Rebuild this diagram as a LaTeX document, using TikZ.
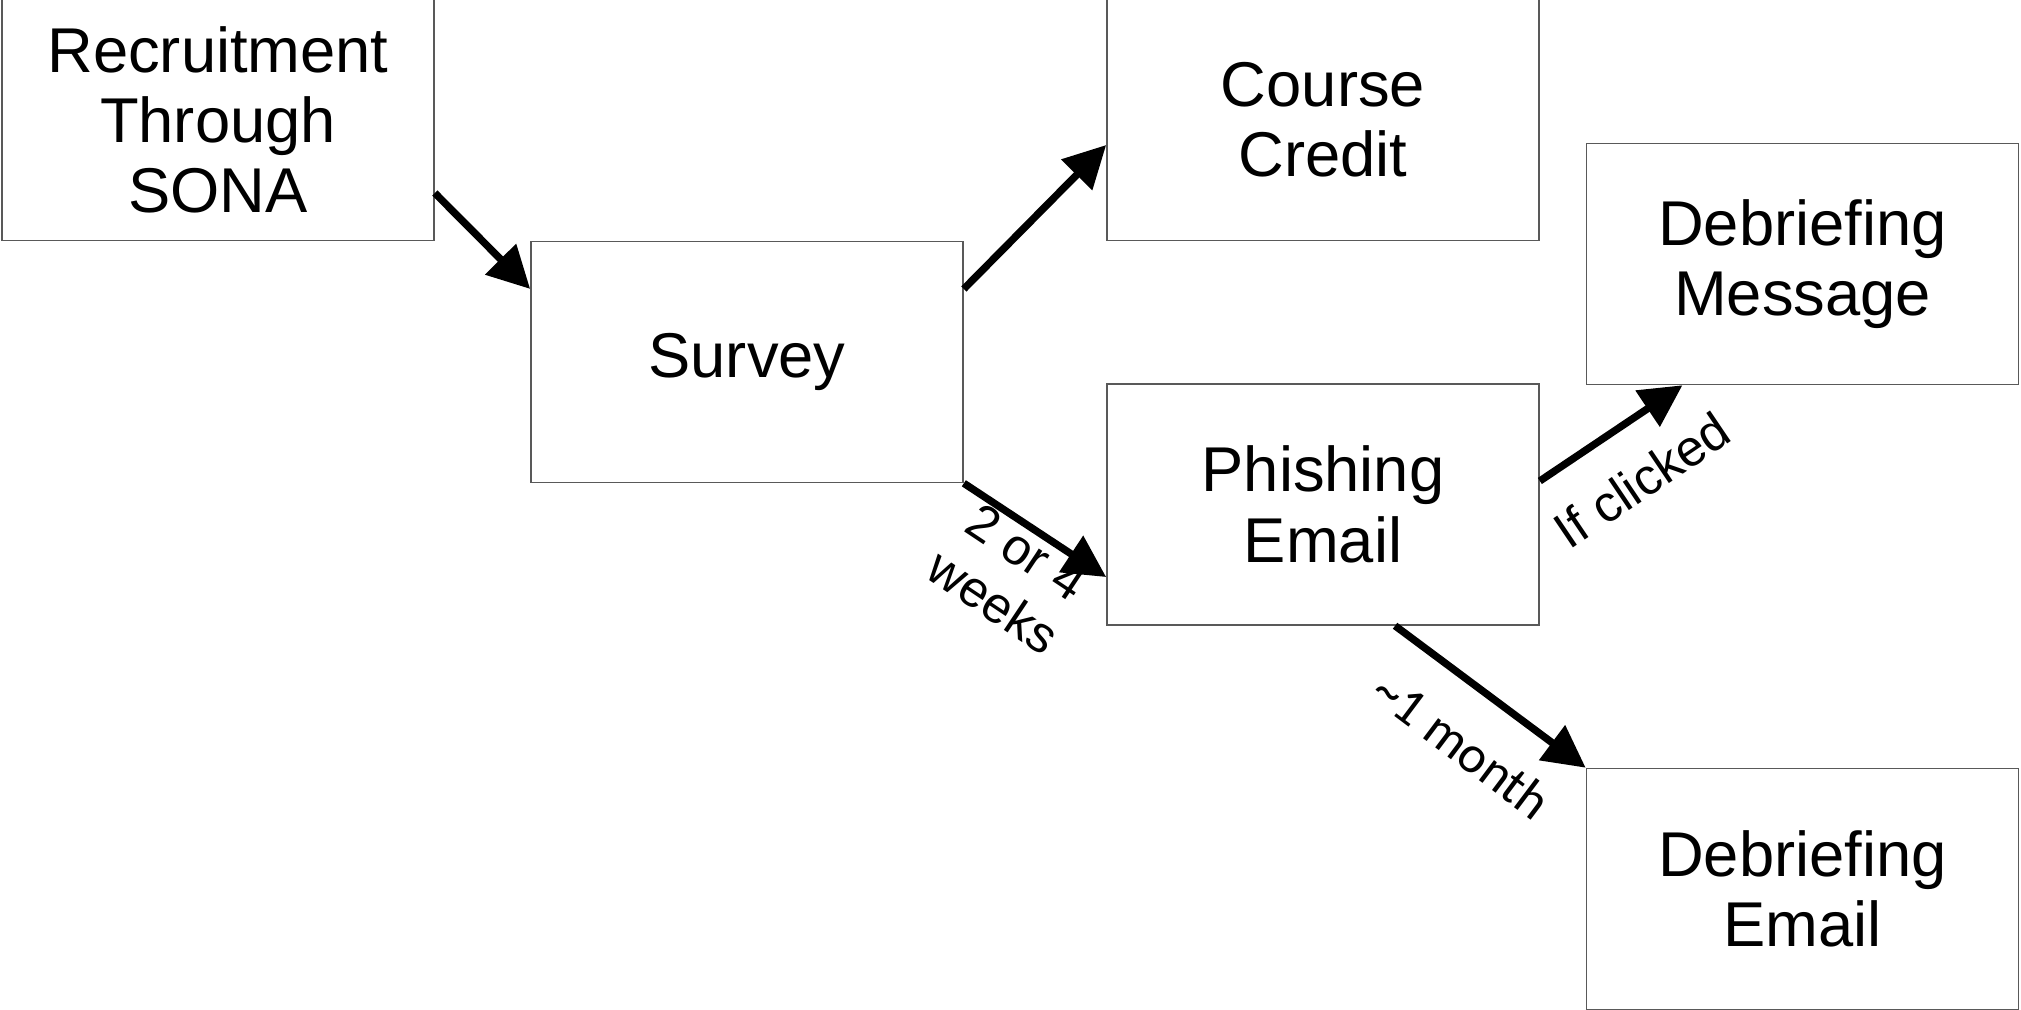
\documentclass[tikz,border=0pt]{standalone}
\usepackage{fontspec}
\setmainfont{Liberation Sans}
\newfontfamily\carlito{Carlito}
\usepackage{tikz}
\usetikzlibrary{arrows.meta}

\tikzset{
  stage/.style={draw=black!65, line width=0.4pt, minimum width=4.32cm, minimum height=2.41cm,
    inner sep=0pt, align=center, font=\fontsize{18}{20}\selectfont},
  flow/.style={line width=2.1pt, -{Triangle[length=0.42cm,width=0.42cm]}},
  lbl/.style={align=center, font=\fontsize{14.5}{17}\selectfont}
}

\begin{document}
\begin{tikzpicture}[x=0.01cm,y=-0.01cm]
\useasboundingbox (0,0) rectangle (2021,1010);
%
\node[stage] (rec) at (218,120) {Recruitment\\Through\\SONA};
\node[stage] (sur) at (747,362) {Survey};
\node[stage] (cc) at (1323,120) {Course\\Credit};
\node[stage] (pe) at (1323,504.5) {Phishing\\Email};
\node[stage] (dm) at (1802.5,264) {Debriefing\\Message};
\node[stage] (de) at (1802.5,889) {Debriefing\\Email};
%
\draw[flow] ([yshift=-0.73cm]rec.east) -- ([yshift=0.73cm]sur.west);
\draw[flow] ([yshift=0.73cm]sur.east) -- ([yshift=-0.25cm]cc.west);
\draw[flow] (sur.south east) -- ([yshift=-0.725cm]pe.west);
\draw[flow] ([yshift=0.235cm]pe.east) -- ([xshift=-1.2cm]dm.south);
\draw[flow] ([xshift=0.72cm]pe.south) -- (de.north west);
%
\node[lbl, rotate=-33.7] (wait) at (1010,577) {2 or 4\\weeks};
\node[lbl, rotate=34] (click) at (1642,480) {If clicked};
\node[lbl, rotate=-36.9, font=\carlito\fontsize{15}{17}\selectfont] (month) at (1462,745) {\textasciitilde1 month};
\end{tikzpicture}
\end{document}
